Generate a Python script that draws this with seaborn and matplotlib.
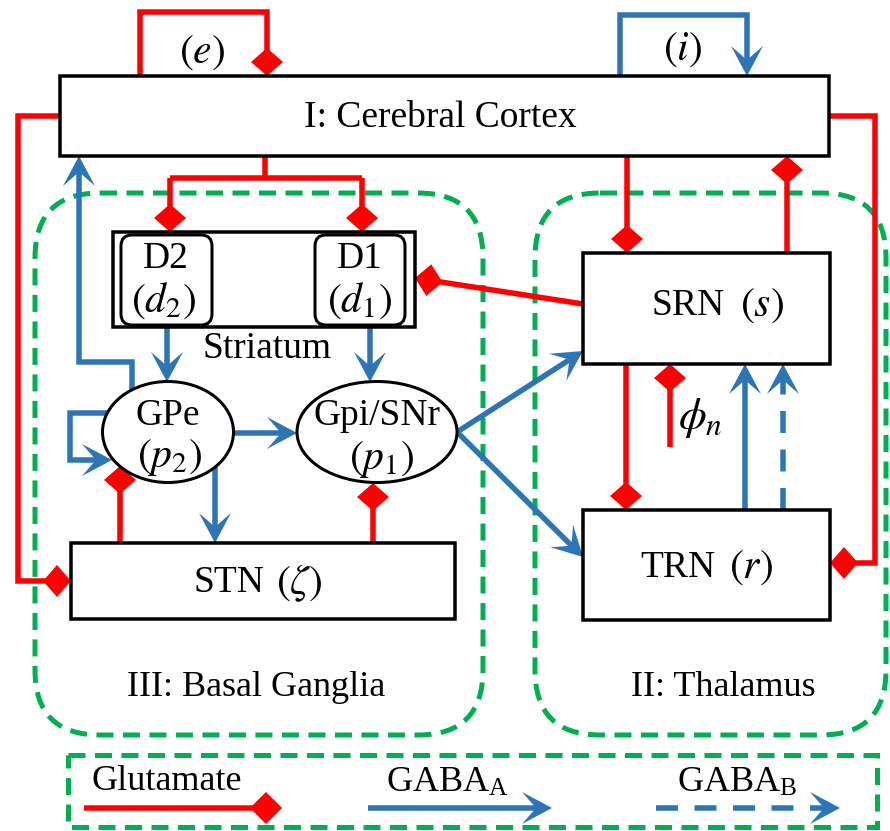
import numpy as np
import matplotlib
matplotlib.use("Agg")
import matplotlib.pyplot as plt
from matplotlib.patches import Polygon, Rectangle, FancyBboxPatch, Ellipse
import seaborn as sns

# labels used in the diagram
region_labels = ["I: Cerebral Cortex", "II: Thalamus", "III: Basal Ganglia"]
node_names = ["D2", "D1", "GPe", "Gpi/SNr", "STN", "SRN", "TRN"]
node_symbols = [r"$(d_2)$", r"$(d_1)$", r"$(p_2)$", r"$(p_1)$", r"$(\zeta)$", r"$(s)$", r"$(r)$"]
loop_labels = [r"$(e)$", r"$(i)$"]
input_label = r"$\phi_n$"
group_label = "Striatum"
legend_labels = ["Glutamate", r"GABA$_\mathregular{A}$", r"GABA$_\mathregular{B}$"]

sns.set_theme(style="white")
plt.rcParams['font.serif'] = ['Liberation Serif', 'DejaVu Serif']
plt.rcParams['font.family'] = ['serif']
plt.rcParams['mathtext.fontset'] = 'stix'
plt.rcParams['text.color'] = 'black'

RED = '#FF0000'
BLUE = '#2E75B6'
GREEN = '#00B050'
PX = 0.72  # points per pixel at 100 dpi
FS = 26
MS = 30  # math labels look bigger in the original

fig = plt.figure(figsize=(8.9, 8.31), dpi=100)
ax = fig.add_axes([0, 0, 1, 1])
ax.set_xlim(0, 890)
ax.set_ylim(831, 0)
ax.axis('off')


def unit(p, q):
    d = np.subtract(q, p).astype(float)
    return d / np.hypot(*d)


def line(pts, color, w=5.5, dashed=False):
    xs, ys = zip(*pts)
    ax.plot(xs, ys, color=color, lw=w * PX, ls=(0, (4, 3)) if dashed else '-',
            solid_capstyle='butt', dash_capstyle='butt', solid_joinstyle='miter', zorder=2)


def glut(pts, L=28, W=16):
    tip = np.array(pts[-1], float)
    u = unit(pts[-2], pts[-1])
    n = np.array([-u[1], u[0]])
    line(list(pts[:-1]) + [tuple(tip - u * L / 2)], RED)
    ax.add_patch(Polygon([tip, tip - u * L / 2 + n * W, tip - u * L, tip - u * L / 2 - n * W],
                         closed=True, fc=RED, ec='none', zorder=3))


def gaba(pts, dashed=False, L=30, W=16, notch=16):
    tip = np.array(pts[-1], float)
    u = unit(pts[-2], pts[-1])
    n = np.array([-u[1], u[0]])
    line(list(pts[:-1]) + [tuple(tip - u * notch)], BLUE, dashed=dashed)
    ax.add_patch(Polygon([tip, tip - u * L + n * W, tip - u * notch, tip - u * L - n * W],
                         closed=True, fc=BLUE, ec='none', zorder=3))


def box(x0, y0, x1, y1, rounded=0, lw=3.5):
    if rounded:
        p = FancyBboxPatch((x0, y0), x1 - x0, y1 - y0, boxstyle=f"round,pad=0,rounding_size={rounded}",
                           fc='white', ec='black', lw=lw * PX, zorder=4)
    else:
        p = Rectangle((x0, y0), x1 - x0, y1 - y0, fc='white', ec='black', lw=lw * PX, zorder=4)
    ax.add_patch(p)


def region(x0, y0, x1, y1, r):
    if r:
        p = FancyBboxPatch((x0, y0), x1 - x0, y1 - y0, boxstyle=f"round,pad=0,rounding_size={r}",
                           fill=False, ec=GREEN, lw=5 * PX, ls=(0, (3.4, 1.9)), zorder=1)
    else:
        p = Rectangle((x0, y0), x1 - x0, y1 - y0, fill=False, ec=GREEN, lw=5 * PX,
                      ls=(0, (3.4, 1.9)), zorder=1)
    ax.add_patch(p)


def label(x, y, s, size=FS, ha='center'):
    ax.text(x, y, s, ha=ha, va='center', fontsize=size, color='black',
            family='Liberation Serif', zorder=6)


# green dashed regions and legend frame
region(35, 193, 483, 735, 65)
region(535, 193, 886, 735, 65)
region(68, 755, 877, 827, 0)

# cortex loops
glut([(140, 76), (140, 12), (267, 12), (267, 76)])
gaba([(620, 76), (620, 15), (747, 15), (747, 76)])

# cortex -> striatum
line([(265, 156), (265, 178)], RED)
line([(170, 178), (362, 178)], RED)
glut([(170, 178), (170, 232)])
glut([(362, 178), (362, 232)])

# cortex -> STN, cortex -> TRN
glut([(60, 116), (18, 116), (18, 581), (71, 581)])
glut([(829, 116), (875, 116), (875, 563), (830, 563)])

# cortex <-> SRN
glut([(627, 156), (627, 253)])
glut([(787, 253), (787, 156)])

# SRN -> D1, SRN -> TRN, phi_n
glut([(583, 304), (415, 278)])
glut([(626, 364), (626, 510)])
glut([(670, 447), (670, 364)])

# TRN -> SRN
gaba([(745, 510), (745, 364)])
gaba([(783, 510), (783, 364)], dashed=True)

# striatum loops and outputs
gaba([(212, 299), (248, 299), (248, 257), (212, 257)])
gaba([(315, 258), (280, 258), (280, 302), (315, 302)])
gaba([(167, 325), (167, 382)])
gaba([(370, 325), (370, 382)])

# GPe outputs
gaba([(132, 390), (132, 362), (79, 362), (79, 156)])
gaba([(107, 413), (70, 413), (70, 460), (112, 460)])
gaba([(233, 433), (297, 433)])
gaba([(215, 467), (215, 543)])

# Gpi outputs
gaba([(457, 432), (583, 351)])
gaba([(457, 432), (583, 557)])

# STN -> GPe, STN -> Gpi
glut([(120, 543), (120, 466)])
glut([(373, 543), (373, 483)])

# boxes
box(60, 76, 829, 156)
box(113, 232, 415, 327)
box(121, 235, 212, 325, rounded=11, lw=3)
box(315, 235, 405, 325, rounded=11, lw=3)
box(71, 543, 455, 619)
box(583, 253, 830, 364)
box(583, 510, 830, 620)
for cx, w in [(168, 131), (377, 160)]:
    ax.add_patch(Ellipse((cx, 432), w, 101, fc='white', ec='black', lw=3 * PX, zorder=4))

# text
label(440, 118, region_labels[0], size=27)
label(723, 688, region_labels[1])
label(256, 688, region_labels[2])
label(166, 259, node_names[0], size=27)
label(164, 301, node_symbols[0], size=MS)
label(360, 259, node_names[1], size=27)
label(360, 301, node_symbols[1], size=MS)
label(168, 416, node_names[2], size=27)
label(170, 458, node_symbols[2], size=MS)
label(377, 416, node_names[3], size=27)
label(382, 459, node_symbols[3], size=MS)
label(194, 583, node_names[4], size=27, ha='left')
label(299, 583, node_symbols[4], size=MS)
label(652, 306, node_names[5], size=27, ha='left')
label(762, 306, node_symbols[5], size=MS)
label(640, 568, node_names[6], size=27, ha='left')
label(751, 568, node_symbols[6], size=MS)
label(267, 349, group_label, size=27)
label(202, 53, loop_labels[0], size=MS)
label(683, 50, loop_labels[1], size=MS)
label(700, 418, input_label, size=32)

# legend
label(167, 781, legend_labels[0])
glut([(84, 808), (282, 808)], L=32)
label(447, 783, legend_labels[1])
gaba([(368, 808), (552, 808)])
label(737, 783, legend_labels[2])
gaba([(656, 808), (840, 808)], dashed=True)

fig.savefig("out.png", dpi=100)
